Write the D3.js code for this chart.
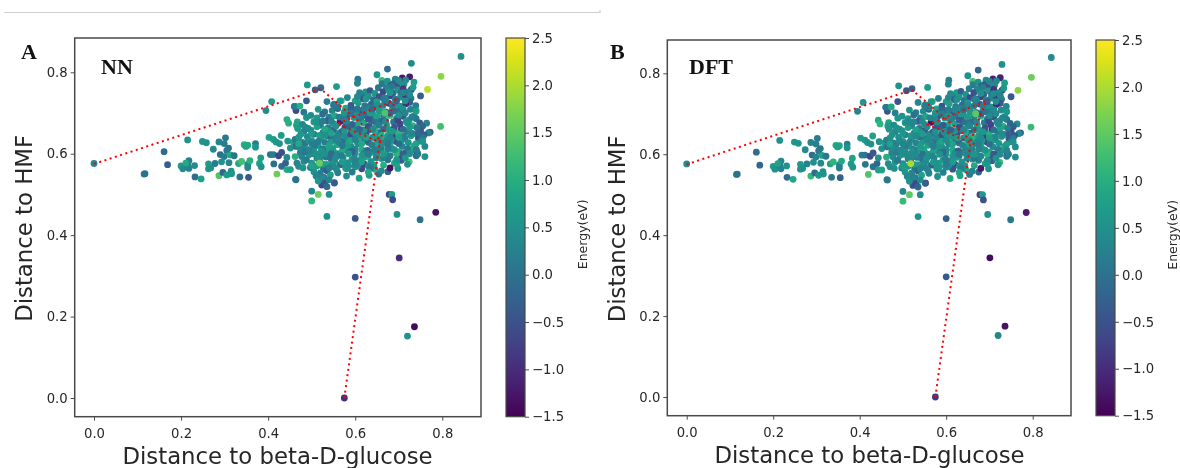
<!DOCTYPE html>
<html><head><meta charset="utf-8">
<script src="https://cdn.jsdelivr.net/npm/d3@7/dist/d3.min.js"></script>
<style>html,body{margin:0;padding:0;background:#fff;overflow:hidden}svg{display:block;filter:blur(0.35px)}</style>
</head><body><svg id="c" width="1180" height="468"></svg>
<script>
const distGlucose=[
0,.115,.117,.161,.169,.215,.2,.204,.215,.218,.218,.231,
.211,.232,.246,.249,.258,.274,.263,.263,.268,.278,.287,.287,
.302,.299,.309,.305,.29,.299,.313,.322,.293,.31,.296,.305,
.315,.316,.335,.332,.339,.355,.353,.353,.358,.345,.349,.353,
.371,.371,.383,.38,.384,.402,.412,.418,.426,.43,.445,.405,
.412,.424,.431,.413,.42,.431,.44,.443,.451,.458,.464,.443,
.451,.395,.408,.46,.464,.443,.447,.467,.468,.464,.462,.466,
.47,.5,.5,.515,.54,.552,.535,.6,.678,.684,.686,.696,
.749,.785,.701,.6,.736,.72,.575,.463,.609,.58,.632,.654,
.675,.698,.724,.76,.74,.74,.552,.523,.515,.729,.674,.65,
.725,.797,.766,.75,.624,.606,.605,.661,.735,.729,.735,.843,
.796,.764,.772,.49,.508,.521,.557,.462,.488,.473,.482,.465,
.662,.674,.681,.692,.699,.708,.716,.688,.703,.671,.695,.712,
.615,.634,.645,.653,.664,.676,.687,.698,.71,.722,.733,.705,
.582,.6,.618,.63,.642,.655,.668,.68,.692,.704,.716,.728,
.535,.552,.568,.59,.607,.622,.637,.65,.664,.677,.69,.725,
.703,.716,.739,.578,.645,.598,
.515,.53,.547,.56,.575,.59,.612,.628,.655,.67,.685,.698,
.712,.727,.736,.62,.64,.665,
.498,.512,.525,.54,.553,.568,.582,.597,.61,.635,.65,.68,
.695,.71,.724,.74,.488,.605,.578,.66,
.479,.505,.52,.535,.55,.565,.592,.62,.632,.648,.672,.688,
.703,.717,.732,.748,.755,.492,.538,.644,.665,
.468,.482,.498,.512,.526,.55,.563,.576,.59,.605,.618,.632,
.655,.678,.692,.706,.72,.734,.75,.768,.742,.475,.584,.612,
.49,.505,.52,.536,.55,.565,.597,.625,.64,.66,.672,.686,
.7,.714,.728,.745,.758,.462,.478,.545,.63,.668,
.469,.485,.5,.515,.53,.558,.572,.59,.605,.618,.648,.664,
.68,.694,.708,.722,.736,.75,.49,.536,.582,.64,.7,.76,
.474,.505,.52,.55,.563,.6,.615,.63,.655,.67,.685,.715,
.73,.744,.477,.493,.512,.528,.545,.572,.592,.648,.705,.66,
.482,.5,.518,.535,.553,.566,.58,.605,.62,.636,.675,.69,
.706,.72,.497,.512,.527,.545,.558,.6,.615,.63,.665,.68,
.505,.52,.535,.58,.593,.645,.66,.695,.51,.528,.543,.56,
.515,.525,.53,.54,.535,
.556,.57,.585,.6,.615,.63,.645,.66,.675,.69,.705,.72,
.548,.563,.578,.593,.608,.623,.638,.653,.668,.683,.698,.713,
.56,.575,.59,.605,.62,.635,.65,.665,.68,.695,.71,.725,
.525,.54,.555,.57,.585,.6,.615,.63,.645,.66,.675,.69,
.478,.492,.507,.522,.538,.553,.568,.583,.598,.613,.628,.643,
.488,.503,.518,.533,.548,.563,.578,.593,.608,.623,.638,.653,
.47,.485,.5,.515,.53,.545,.56,.575,.59,.605,.62,.635,
.65,.665,.68,.695,.71,.725,.74,.755,.67,.685,.7,.715,
.5,.515,.53,.545,.56,.575,.59,.605,.62,.635,.65,.665,
.68,.695,.71,.725,.74,.73,.72,.71,.7,.69,.68,.67,
.55,.565,.58,.595,.61,.625,.64,.655,.67,.685,.7,.715,
.51,.525,.54,.555,.57,.585,.6,.615,.63,.645,.66,.675,
.61,.625,.64,.655,.67,.685,.7,.715,.73,.745,.755,.74,
.48,.495,.51,.525,.54,.555,.57,.585,.6,.615,.63,.645,
.605,.59,.575,.56,.545,.53,.515,.5,.485,.47,.668,.518];
const distHMF=[
.576,.55,.551,.605,.573,.634,.57,.563,.573,.583,.564,.571,
.577,.543,.538,.63,.627,.611,.575,.563,.565,.576,.546,.629,
.639,.625,.614,.608,.598,.593,.597,.595,.58,.578,.554,.548,
.557,.551,.543,.576,.581,.542,.574,.566,.583,.622,.618,.621,
.625,.616,.59,.576,.568,.64,.635,.629,.625,.645,.631,.598,
.598,.595,.603,.575,.55,.569,.577,.591,.614,.628,.536,.561,
.561,.706,.728,.716,.706,.684,.675,.678,.664,.618,.593,.577,
.569,.508,.484,.5,.5,.528,.446,.441,.5,.5,.487,.451,
.438,.456,.344,.297,.175,.152,0,.537,.54,.545,.547,.55,
.556,.564,.58,.593,.595,.608,.529,.523,.54,.822,.808,.794,
.789,.79,.758,.742,.752,.783,.773,.78,.776,.758,.693,.839,
.667,.675,.653,.769,.757,.762,.765,.716,.73,.717,.702,.67,
.772,.778,.768,.783,.775,.786,.781,.772,.77,.762,.765,.771,
.742,.755,.748,.762,.752,.758,.749,.757,.76,.752,.763,.748,
.738,.73,.735,.741,.733,.74,.737,.742,.734,.739,.743,.736,
.728,.722,.73,.719,.725,.718,.722,.727,.719,.724,.72,.726,
.717,.723,.718,.712,.713,.708,
.709,.703,.706,.711,.702,.699,.706,.701,.708,.703,.71,.705,
.701,.709,.69,.695,.698,.693,
.694,.688,.697,.69,.693,.686,.695,.689,.684,.686,.691,.694,
.687,.692,.683,.686,.689,.672,.676,.68,
.672,.678,.67,.681,.674,.679,.668,.675,.668,.677,.671,.678,
.673,.68,.669,.676,.668,.662,.664,.663,.66,
.662,.655,.658,.666,.652,.658,.651,.664,.655,.66,.653,.658,
.652,.659,.653,.661,.655,.649,.657,.651,.664,.648,.643,.645,
.642,.648,.638,.645,.639,.647,.641,.648,.64,.645,.637,.643,
.648,.636,.644,.638,.646,.635,.628,.63,.628,.627,
.618,.625,.632,.62,.628,.622,.632,.618,.627,.634,.618,.628,
.622,.63,.618,.627,.62,.631,.61,.612,.608,.606,.605,.618,
.603,.612,.6,.606,.598,.602,.61,.596,.608,.599,.612,.601,
.611,.6,.593,.597,.589,.594,.587,.591,.585,.59,.593,.588,
.581,.577,.583,.574,.58,.573,.578,.583,.575,.581,.585,.577,
.584,.574,.566,.57,.564,.568,.56,.568,.563,.57,.572,.565,
.556,.553,.558,.563,.555,.562,.558,.575,.545,.542,.548,.553,
.533,.54,.528,.536,.519,
.668,.655,.628,.612,.69,.665,.602,.642,.612,.665,.632,.612,
.613,.69,.642,.672,.638,.606,.68,.617,.702,.634,.682,.643,
.6,.615,.648,.71,.658,.712,.633,.59,.7,.6,.71,.665,
.612,.655,.635,.607,.668,.65,.58,.685,.655,.612,.645,.705,
.612,.633,.622,.607,.643,.585,.595,.62,.59,.645,.608,.572,
.585,.6,.645,.592,.575,.628,.565,.605,.625,.592,.622,.635,
.64,.605,.57,.678,.6,.6,.64,.685,.632,.57,.6,.565,
.6,.6,.595,.585,.6,.6,.625,.64,.68,.655,.625,.59,
.625,.59,.66,.68,.715,.7,.71,.74,.71,.7,.72,.735,
.75,.73,.75,.745,.705,.69,.675,.66,.64,.61,.64,.73,
.72,.73,.68,.655,.66,.64,.66,.67,.625,.72,.695,.7,
.68,.68,.62,.59,.62,.6,.635,.625,.6,.64,.625,.625,
.75,.735,.71,.705,.735,.765,.78,.73,.65,.65,.63,.61,
.565,.61,.6,.575,.565,.565,.58,.57,.575,.595,.555,.61,
.695,.7,.655,.645,.65,.645,.63,.65,.665,.625,.7,.577];
const energyNN=[
.3,0,0,-.1,-.3,.5,.7,.4,0,.2,.3,.4,
.9,-.1,.8,.6,.5,.4,.7,.6,.5,.2,1.4,.3,
.1,.2,0,.1,0,.2,.9,.1,.5,.3,-.2,.7,
.5,.6,0,.9,1.3,-.4,.4,.3,1,1,.8,.9,
.2,.6,.7,.8,.5,.8,.7,.6,.5,.7,.6,.1,
.2,-.7,-.5,0,1.6,-.1,-.3,.4,.6,.8,-.1,.9,
.8,.4,.7,0,-.6,1,1,.9,1.1,-.1,1,.3,
.4,.3,1.1,1.6,.5,-.4,.5,-.4,-.6,.7,-.6,.5,
0,-1.3,-1,-.5,-1.4,.5,-1,0,.8,.4,.7,0,
-.3,.6,1.3,.5,-.1,-1.4,-.4,-.6,-.2,.4,-.1,.6,
-1.2,1.8,2.1,-.3,.6,.1,.3,1.2,.7,-.7,.5,.5,
1.3,.3,-.3,.7,-.3,-.1,.7,.2,-.4,1,.1,.8,
.1,.6,-.2,.3,.7,-1.2,.4,-.3,.9,.2,-.5,.5,
.2,-.4,.6,.1,-.6,.4,-.2,.5,-.8,.3,.7,-.1,
.3,.8,-.3,.5,0,-.5,.6,-.7,.2,.4,-.9,.1,
.2,.5,1.1,-.4,.7,.1,-.2,.8,.3,-.6,.5,-.3,
.6,-1,.2,.9,.3,-.1,
.6,.1,.3,-.3,.8,.2,-.5,.7,.4,-.2,1,.1,
-.7,.3,.5,-.1,.6,.2,
.4,.7,-.1,.2,.9,.3,-.5,.6,.1,-.3,.8,1.1,
.3,-.4,.6,.1,.5,.9,.2,-.2,
.3,.7,.1,-.2,.6,-1.2,.4,.9,-.4,.2,.7,.1,
-.6,.5,1.1,-.3,-.2,.6,.2,.8,-.1,
.7,.2,.4,.8,.1,-.3,.5,-.6,.9,.2,1.1,.3,
-.2,.6,.9,-.8,.3,.5,-.4,.3,.1,.6,.8,-.1,
.4,.1,.7,.2,-.2,.6,.9,-.5,.3,1,.2,-.7,
1.1,.3,.6,-.5,-.4,.1,.2,.7,-.2,.4,
.3,.1,.5,.7,.2,.9,-.1,.4,.6,-.4,.8,.2,
1,-.6,.3,.5,.7,.1,.5,.8,-.2,.4,.9,.3,
.2,.6,.1,.9,-.3,.5,1,.2,-.2,.7,.4,-1,
.9,.1,.3,.5,.2,.7,-.1,.4,.6,.2,-.5,.8,
.4,.6,.1,.8,1.2,-.2,.5,.3,-.7,.6,.1,.9,
-.4,.5,.2,.7,-.1,.4,.9,.6,-.6,.3,1,-1.3,
.5,.2,-.3,.6,.1,.9,.4,.8,.3,-.1,.7,.2,
.6,.4,-.5,.3,-.1,
.5,-.2,.8,.3,.1,-.5,.7,1,.2,-.4,.6,.1,
.7,.2,.4,-.3,1.1,.6,-.1,.9,.3,.5,-.7,.2,
.4,.8,-.6,.1,.6,.3,.9,.2,-.3,1.1,.5,.7,
.1,.6,.3,.9,-.2,.5,.8,-.4,1,.2,.7,-.1,
.3,.5,.1,.6,-.1,.4,.2,.7,.3,.5,-.2,.6,
.2,.4,.7,.1,.5,.3,.6,-.2,.4,.8,.2,.5,
.6,.1,.8,.3,.5,-.1,.4,.2,.9,.5,.3,.1,
.4,.7,.2,.6,-.3,.5,.8,.1,.4,.7,-.2,.6,
.2,.5,.9,.3,.1,.6,-.3,.4,.2,.7,.5,.1,
.6,-.2,.3,.4,.7,.2,.5,-.1,.8,.6,.3,.2,
.1,.7,.3,.5,-.2,.8,.4,.2,.6,.1,.5,.3,
.5,.2,.8,.4,.1,.6,.3,.9,.2,.7,.4,.1,
.3,.6,-.1,.7,.2,.1,.4,.5,.3,-.2,.6,.2,
.6,.3,.5,.8,.2,.4,.7,.5,.3,.6,.9,.2,
.4,.1,.6,.3,.8,.5,.2,.7,.4,.9,1.4,1.6];
const energyDFT=[
.4,.1,0,-.1,-.2,.5,.7,.5,.1,.3,.3,.5,
.8,-.1,.9,.6,.5,.4,.7,.5,.5,.3,1.2,.3,
.2,.2,.1,.1,-.1,.3,.8,.1,.5,.4,-.1,.6,
.5,.5,.1,.8,1.1,-.3,.4,.2,.9,.9,.8,.8,
.2,.5,.8,.7,.6,.7,.7,.5,.5,.8,.5,.2,
.1,-.6,-.4,.1,1.4,0,-.2,.5,.5,.7,0,.8,
.8,.3,.6,.1,-.5,.9,1.1,.8,1,0,1,.4,
.5,.3,1.2,1.5,.4,-.5,.6,-.3,-.7,.7,-.5,.5,
.1,-1.2,-1.4,-.4,-1.3,.3,-.9,.1,.9,.5,.8,.1,
-.2,.5,1.2,.4,0,-1.3,-.3,-.5,-.1,.5,-.2,.5,
-1.1,1.6,1.8,-.4,.7,.2,.3,1.3,.7,-.8,.6,.4,
1.2,.4,-.2,.6,-.4,-.2,.7,.1,-.5,.9,.2,.7,
.2,.5,-.3,.4,.8,-1.1,.3,-.4,.8,.3,-.6,.4,
.3,-.3,.5,.2,-.5,.3,-.3,.6,-.9,.4,.6,0,
.2,.7,-.2,.6,.1,-.6,.5,-.8,.3,.3,-.8,.2,
.3,.4,1,-.5,.8,.2,-.1,.7,.2,-.5,.6,-.4,
.5,-1.1,.3,.8,.4,0,
.5,.2,.4,-.4,.7,.3,-.4,.8,.3,-.3,.9,.2,
-.6,.4,.4,0,.5,.3,
.5,.6,0,.3,.8,.2,-.6,.7,.2,-.2,.7,1,
.2,-.5,.5,.2,.6,.8,.3,-.1,
.4,.6,.2,-.3,.5,-1.3,.5,.8,-.3,.1,.8,.2,
-.7,.4,1,-.2,-.3,.7,.1,.7,0,
.6,.3,.5,.7,.2,-.4,.4,-.5,.8,.3,1,.2,
-.3,.7,.8,-.9,.2,.6,-.5,.4,.2,.5,.7,0,
.5,.2,.6,.3,-.3,.5,.8,-.6,.2,.9,.3,-.8,
1,.4,.5,-.4,-.5,.2,.3,.6,-.1,.5,
.2,.2,.6,.6,.3,.8,0,.5,.5,-.5,.7,.3,
.9,-.7,.4,.6,.6,.2,.4,.7,-.1,.5,.8,.4,
.3,.5,.2,.8,-.4,.6,.9,.1,-.3,.6,.5,-1.1,
.8,.2,.4,.6,.1,.6,0,.3,.7,.3,-.4,.7,
.5,.5,.2,.7,1.1,-.3,.6,.2,-.8,.5,.2,.8,
-.3,.6,.3,.6,0,.5,.8,.5,-.5,.4,.9,-1.2,
.6,.3,-.2,.5,.2,.8,.3,.7,.4,0,.8,.3,
.5,.3,-.6,.4,-.2,
.4,-.3,.7,.4,.2,-.6,.6,1.1,.3,-.5,.7,.2,
.8,.3,.3,-.4,1,.5,0,.8,.2,.6,-.6,.3,
.5,.7,-.5,.2,.5,.4,.8,.1,-.4,1,.4,.8,
.2,.5,.4,.8,-.3,.6,.7,-.3,.9,.3,.6,0,
.4,.4,.2,.5,0,.3,.3,.6,.2,.6,-.3,.5,
.1,.5,.6,.2,.4,.4,.5,-.1,.3,.7,.3,.4,
.5,.2,.7,.4,.4,0,.3,.3,.8,.4,.4,.2,
.3,.6,.3,.5,-.4,.4,.7,.2,.3,.6,-.1,.5,
.3,.4,.8,.4,.2,.5,-.2,.3,.3,.6,.4,.2,
.5,-.3,.4,.3,.6,.3,.4,0,.7,.5,.4,.1,
.2,.6,.4,.4,-.3,.7,.3,.3,.5,.2,.4,.4,
.4,.3,.7,.5,.2,.5,.4,.8,.1,.6,.5,.2,
.4,.5,0,.6,.3,.2,.3,.4,.4,-.3,.5,.3,
.5,.4,.4,.7,.3,.3,.6,.6,.2,.5,.8,.3,
.5,.2,.5,.4,.7,.4,.3,.6,.5,.8,1.5,2];
const pathEnds=[[0,.575],[.521,.759],[.657,.634]];
const pathLoop=[[.575,0],[.657,.634],[.692,.732],[.558,.673],[.667,.624]];
const xTicks=[0,.2,.4,.6,.8], yTicks=[0,.2,.4,.6,.8];
const barTicks=[-1.5,-1,-.5,0,.5,1,1.5,2,2.5];
const xTitle="Distance to beta-D-glucose", yTitle="Distance to HMF", barTitle="Energy(eV)";
const panels=[
 {letter:"A",name:"NN",values:energyNN,x0:74.7,x1:481,y0:416.7,y1:38,xZero:94,xEight:442.3,yZero:398,yEight:72.3,bar:[506,525],lx:21,ly:59,nx:101,ny:74,ylab:24,xlab:277.5,xlaby:464,cbl:587},
 {letter:"B",name:"DFT",values:energyDFT,x0:667.3,x1:1071,y0:415.7,y1:40,xZero:686.7,xEight:1032.7,yZero:397,yEight:73.3,bar:[1096,1115],lx:610,ly:59,nx:689,ny:74,ylab:617,xlab:869.5,xlaby:463,cbl:1177}
];
const svg=d3.select("#c");
const ink="#262626", spine="#4a4a4a";
const color=d3.scaleSequential(d3.interpolateViridis).domain([-1.5,2.5]);
const points=d3.zip(distGlucose,distHMF);
svg.append("path").attr("d","M4,12.5H600V10").attr("fill","none").attr("stroke","#cfcfcf").attr("stroke-width",1.2);
panels.forEach((p,i)=>{
 const x=d3.scaleLinear().domain([0,.8]).range([p.xZero,p.xEight]);
 const y=d3.scaleLinear().domain([0,.8]).range([p.yZero,p.yEight]);
 const g=svg.append("g");
 g.selectAll("circle").data(points).join("circle")
  .attr("cx",d=>x(d[0])).attr("cy",d=>y(d[1])).attr("r",3.4)
  .attr("fill",(d,k)=>color(p.values[k]));
 const line=d3.line().x(d=>x(d[0])).y(d=>y(d[1]));
 [pathEnds,pathLoop].forEach(pts=>g.append("path").attr("d",line(pts)).attr("fill","none")
   .attr("stroke","#ff0000").attr("stroke-width",2).attr("stroke-dasharray","2 3.5"));
 g.append("rect").attr("x",p.x0).attr("y",p.y1).attr("width",p.x1-p.x0).attr("height",p.y0-p.y1)
  .attr("fill","none").attr("stroke",spine).attr("stroke-width",1.5);
 const ax=d3.axisBottom(x).tickValues(xTicks).tickFormat(d3.format(".1f")).tickSize(4).tickSizeOuter(0);
 const ay=d3.axisLeft(y).tickValues(yTicks).tickFormat(d3.format(".1f")).tickSize(4).tickSizeOuter(0);
 const gx=g.append("g").attr("transform",`translate(0,${p.y0})`).call(ax);
 const gy=g.append("g").attr("transform",`translate(${p.x0},0)`).call(ay);
 [gx,gy].forEach(a=>{a.select(".domain").remove();
  a.selectAll("line").attr("stroke",spine).attr("stroke-width",1);
  a.selectAll("text").attr("fill",ink).attr("font-family","DejaVu Sans").attr("font-size",13.2);});
 gx.selectAll("text").attr("dy","1.05em");
 g.append("text").text(xTitle).attr("x",p.xlab).attr("y",p.xlaby).attr("text-anchor","middle")
  .attr("font-family","DejaVu Sans").attr("font-size",22.8).attr("fill",ink);
 g.append("text").text(yTitle).attr("transform",`translate(${p.ylab+8},${(p.y0+p.y1)/2+1}) rotate(-90)`).attr("text-anchor","middle")
  .attr("font-family","DejaVu Sans").attr("font-size",22.8).attr("fill",ink);
 g.append("text").text(p.letter).attr("x",p.lx).attr("y",p.ly).attr("font-family","Liberation Serif").attr("font-weight","bold").attr("font-size",22).attr("fill","#111");
 g.append("text").text(p.name).attr("x",p.nx).attr("y",p.ny).attr("font-family","Liberation Serif").attr("font-weight","bold").attr("font-size",22).attr("fill","#111");
 const c=d3.scaleLinear().domain([-1.5,2.5]).range([p.y0,p.y1]);
 const gid="grad"+i;
 const grad=svg.append("defs").append("linearGradient").attr("id",gid).attr("x1",0).attr("x2",0).attr("y1",1).attr("y2",0);
 d3.range(0,1.001,.05).forEach(t=>grad.append("stop").attr("offset",t).attr("stop-color",d3.interpolateViridis(t)));
 g.append("rect").attr("x",p.bar[0]).attr("y",p.y1).attr("width",p.bar[1]-p.bar[0]).attr("height",p.y0-p.y1)
  .attr("fill",`url(#${gid})`).attr("stroke",spine).attr("stroke-width",1.2);
 const ac=d3.axisRight(c).tickValues(barTicks).tickFormat(d=>d3.format(".1f")(d).replace("-","\u2212")).tickSize(4).tickSizeOuter(0);
 const gc=g.append("g").attr("transform",`translate(${p.bar[1]},0)`).call(ac);
 gc.select(".domain").remove();
 gc.selectAll("line").attr("stroke",spine).attr("stroke-width",1);
 gc.selectAll("text").attr("fill",ink).attr("font-family","DejaVu Sans").attr("font-size",13.2);
 g.append("text").text(barTitle).attr("transform",`translate(${p.cbl},${(p.y0+p.y1)/2+7}) rotate(-90)`).attr("text-anchor","middle")
  .attr("font-family","DejaVu Sans").attr("font-size",12.5).attr("fill",ink);
});
</script></body></html>
